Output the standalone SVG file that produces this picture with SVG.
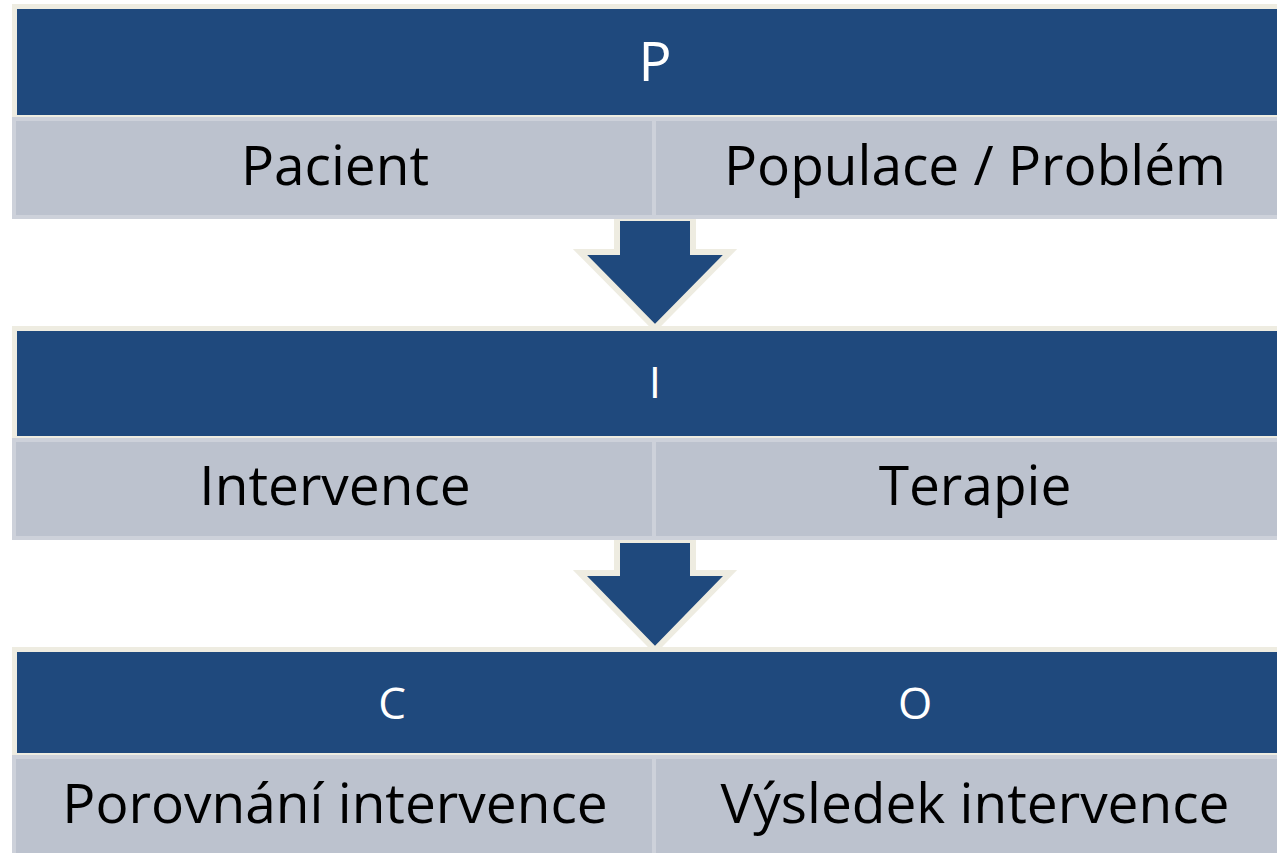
<svg xmlns="http://www.w3.org/2000/svg" width="1277" height="853" viewBox="0 0 1277 853">
  <style>
    .band { fill: #1f497d; stroke: #eeece1; stroke-width: 5; }
    .cell { fill: #bcc2ce; stroke: #cdd1da; stroke-width: 4; }
    .arrow { fill: #1f497d; stroke: #eeece1; stroke-width: 6; stroke-linejoin: miter; }
    .head { font-family: "Open Sans", "Noto Sans", sans-serif; fill: #ffffff; text-anchor: middle; }
    .lbl { font-family: "Open Sans", "Noto Sans", sans-serif; font-size: 55px; fill: #000000; text-anchor: middle; }
  </style>
  <rect width="1277" height="853" fill="#ffffff"/>

  <!-- connectors: block arrows between stages -->
  <g id="connectors">
    <polygon class="arrow" points="617,218 693,218 693,252 730,252 655,328 580,252 617,252"/>
    <polygon class="arrow" points="617,540 693,540 693,573 730,573 655,650 580,573 617,573"/>
  </g>

  <!-- stage P -->
  <g id="node-p">
    <rect class="band" x="14.5" y="6.5" width="1290" height="111"/>
    <rect class="cell" x="14" y="119" width="640" height="98"/>
    <rect class="cell" x="654" y="119" width="650" height="98"/>
    <text class="head" x="655" y="81" font-size="55">P</text>
    <text class="lbl" x="335" y="185">Pacient</text>
    <text class="lbl" x="975" y="185">Populace / Problém</text>
  </g>

  <!-- stage I -->
  <g id="node-i">
    <rect class="band" x="14.5" y="328.5" width="1290" height="110"/>
    <rect class="cell" x="14" y="440" width="640" height="98"/>
    <rect class="cell" x="654" y="440" width="650" height="98"/>
    <text class="head" x="655" y="398" font-size="44">I</text>
    <text class="lbl" x="335" y="505">Intervence</text>
    <text class="lbl" x="975" y="505">Terapie</text>
  </g>

  <!-- stage C / O -->
  <g id="node-co">
    <rect class="band" x="14.5" y="649.5" width="1290" height="106"/>
    <rect class="cell" x="14" y="757" width="640" height="110"/>
    <rect class="cell" x="654" y="757" width="650" height="110"/>
    <text class="head" x="392" y="719" font-size="44">C</text>
    <text class="head" x="915" y="719" font-size="44">O</text>
    <text class="lbl" x="335" y="823">Porovnání intervence</text>
    <text class="lbl" x="975" y="823">Výsledek intervence</text>
  </g>
</svg>
